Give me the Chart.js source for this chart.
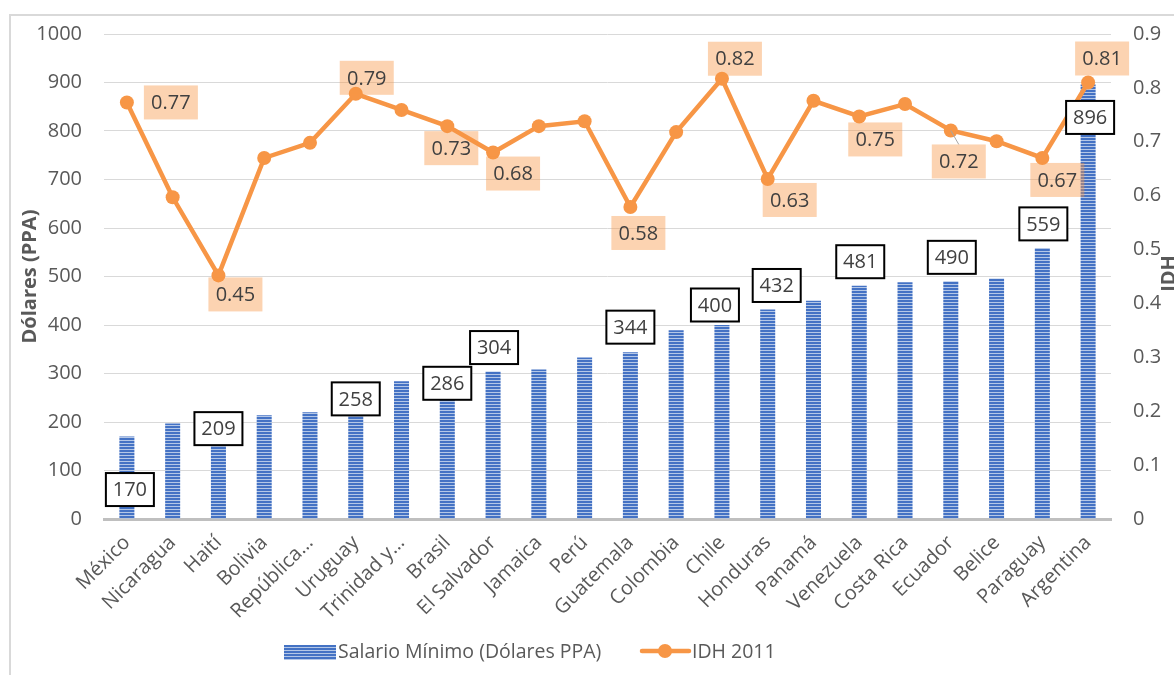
<!DOCTYPE html>
<html><head><meta charset="utf-8">
<script src="https://cdn.jsdelivr.net/npm/chart.js@4.4.1/dist/chart.umd.min.js"></script>
<style>
html,body{margin:0;padding:0;background:#fff;overflow:hidden;width:1174px;height:675px}
#frame{position:absolute;left:9px;top:14px;width:1300px;height:800px;border-left:2px solid #d9d9d9;border-top:2px solid #d9d9d9;box-sizing:border-box}
#wrap{position:absolute;left:0;top:0;width:1185px;height:675px}
</style></head><body>
<div id="frame"></div>
<div id="wrap"><canvas id="c" width="1185" height="675"></canvas></div>
<script>
const categories = ['México','Nicaragua','Haití','Bolivia','República…','Uruguay','Trinidad y…','Brasil','El Salvador','Jamaica','Perú','Guatemala','Colombia','Chile','Honduras','Panamá','Venezuela','Costa Rica','Ecuador','Belice','Paraguay','Argentina'];
const salarioMinimo = [170,197,209,214,220,258,284,286,304,308,333,344,389,400,432,450,481,488,490,496,559,896];
const idh2011 = [0.773,0.597,0.452,0.670,0.698,0.789,0.759,0.729,0.680,0.729,0.738,0.579,0.718,0.817,0.631,0.776,0.747,0.770,0.721,0.701,0.670,0.810];
const leftTicksMax = 1000, leftTicksStep = 100;
const rightTicksMax = 0.9, rightTicksStep = 0.1;
const seriesNames = ['Salario Mínimo (Dólares PPA)','IDH 2011'];
const axisTitles = ['Dólares (PPA)','IDH'];

// label placement (offsets in px from the data element); null = no label
const barLabelOffsets = [[3,53],null,[0,11],null,null,[0,5],null,[0,3],[1,-24],null,null,[0,-25],null,[-7,-20],[9,-24],null,[1,-24],null,[1,-24],null,[1,-24],[2,33]];
const lineLabelOffsets = [[44,0],null,[17,19],null,null,[11,-16],null,[4,22],[20,21],null,null,[8,26],null,[13,-20],[22,21],null,[16,23],null,[8,31,true],null,[15,22],[14,-24]];

const FONT = "'Open Sans', Lato, sans-serif";

function makeStripe(w,h){
  const c=document.createElement('canvas');c.width=w;c.height=h;
  const g=c.getContext('2d');
  for(let y=0;y<h;y+=3){g.fillStyle='#4472c4';g.fillRect(0,y,w,2);g.fillStyle='#b4c7e7';g.fillRect(0,y+2,w,1);}
  return c;
}
const tile=makeStripe(6,3);
const ctxMain=document.getElementById('c').getContext('2d');
const stripePattern=ctxMain.createPattern(tile,'repeat');

const labelPlugin={
  id:'dlabels',
  afterDatasetsDraw(chart){
    const ctx=chart.ctx;
    const mb=chart.getDatasetMeta(0), ml=chart.getDatasetMeta(1);
    ctx.save();
    ctx.font="20px "+FONT;ctx.textAlign='center';ctx.textBaseline='middle';
    lineLabelOffsets.forEach((o,i)=>{
      if(!o) return;
      const el=ml.data[i];const x=el.x+o[0],y=el.y+o[1];
      const w=54,h=34;
      if(o[2]){ctx.strokeStyle='#a6a6a6';ctx.lineWidth=1;ctx.beginPath();ctx.moveTo(el.x,el.y);ctx.lineTo(x,y-h/2);ctx.stroke();}
      ctx.fillStyle='rgba(247,150,70,0.42)';ctx.fillRect(x-w/2,y-h/2,w,h);
      ctx.fillStyle='#404040';ctx.fillText(idh2011[i].toFixed(2),x,y+1);
    });
    barLabelOffsets.forEach((o,i)=>{
      if(!o) return;
      const el=mb.data[i];const x=el.x+o[0],y=el.y+o[1];
      const w=48,h=33;
      ctx.fillStyle='#fff';ctx.fillRect(x-w/2,y-h/2,w,h);
      ctx.strokeStyle='#000';ctx.lineWidth=2;ctx.strokeRect(x-w/2,y-h/2,w,h);
      ctx.fillStyle='#404040';ctx.fillText(String(salarioMinimo[i]),x,y+1);
    });
    ctx.restore();
  },
  afterDraw(chart){
    const ctx=chart.ctx;const a=chart.chartArea;
    ctx.save();
    ctx.font="bold 20px "+FONT;ctx.fillStyle='#595959';ctx.textAlign='center';ctx.textBaseline='middle';
    ctx.save();ctx.translate(1169,(a.top+a.bottom)/2-3);ctx.rotate(-Math.PI/2);ctx.fillText(axisTitles[1],0,0);ctx.restore();
    const ly=651;
    ctx.font="19.5px "+FONT;ctx.textAlign='left';ctx.fillStyle='#595959';
    const bx=284;
    for(let y=ly-6;y<ly+7;y+=3){ctx.fillStyle='#4472c4';ctx.fillRect(bx,y,52,2);ctx.fillStyle='#b4c7e7';ctx.fillRect(bx,y+2,52,1);}
    ctx.fillStyle='#595959';ctx.fillText(chart.data.datasets[0].label,bx+54,ly+1);
    const lx=640;
    ctx.strokeStyle='#f79646';ctx.lineWidth=4.5;ctx.lineCap='round';ctx.beginPath();ctx.moveTo(lx+2,ly);ctx.lineTo(lx+49,ly);ctx.stroke();
    ctx.fillStyle='#f79646';ctx.beginPath();ctx.arc(lx+25,ly,7,0,Math.PI*2);ctx.fill();
    ctx.fillStyle='#595959';ctx.fillText(chart.data.datasets[1].label,lx+52,ly+1);
    ctx.restore();
  }
};

new Chart(ctxMain,{
  type:'bar',
  data:{labels:categories,datasets:[
    {label:seriesNames[0],data:salarioMinimo,yAxisID:'y',backgroundColor:stripePattern,borderWidth:0,categoryPercentage:1,barPercentage:0.328,order:2},
    {label:seriesNames[1],type:'line',data:idh2011,yAxisID:'y1',borderColor:'#f79646',backgroundColor:'#f79646',borderWidth:4.5,pointRadius:7,pointHoverRadius:7,pointBorderWidth:0,pointBackgroundColor:'#f79646',tension:0,order:1}
  ]},
  options:{
    responsive:false,animation:false,
    layout:{padding:{top:27,bottom:0,left:0,right:0}},
    plugins:{tooltip:{enabled:false},legend:{display:false}},
    scales:{
      x:{grid:{display:false},border:{display:true,color:'#bfbfbf',width:3},
        ticks:{color:'#595959',font:{size:20,family:FONT},maxRotation:45,minRotation:45,padding:4,autoSkip:false},
        afterFit(s){s.height=156;}},
      y:{position:'left',min:0,max:leftTicksMax,
        ticks:{stepSize:leftTicksStep,color:'#595959',font:{size:20,family:FONT},padding:22,callback:v=>String(v)},
        grid:{color:'#d9d9d9',lineWidth:1,drawTicks:false},border:{display:false},
        title:{display:true,text:axisTitles[0],color:'#595959',font:{size:20,weight:'bold',family:FONT},padding:{top:18,bottom:0}},
        afterFit(s){s.width=104;}},
      y1:{position:'right',min:0,max:rightTicksMax,
        ticks:{stepSize:rightTicksStep,color:'#595959',font:{size:20,family:FONT},padding:22,callback:v=>v===0?'0':Number(v).toFixed(1)},
        grid:{display:false,drawTicks:false},border:{display:false},
        afterFit(s){s.width=74;}}
    }
  },
  plugins:[labelPlugin]
});
</script>
</body></html>
